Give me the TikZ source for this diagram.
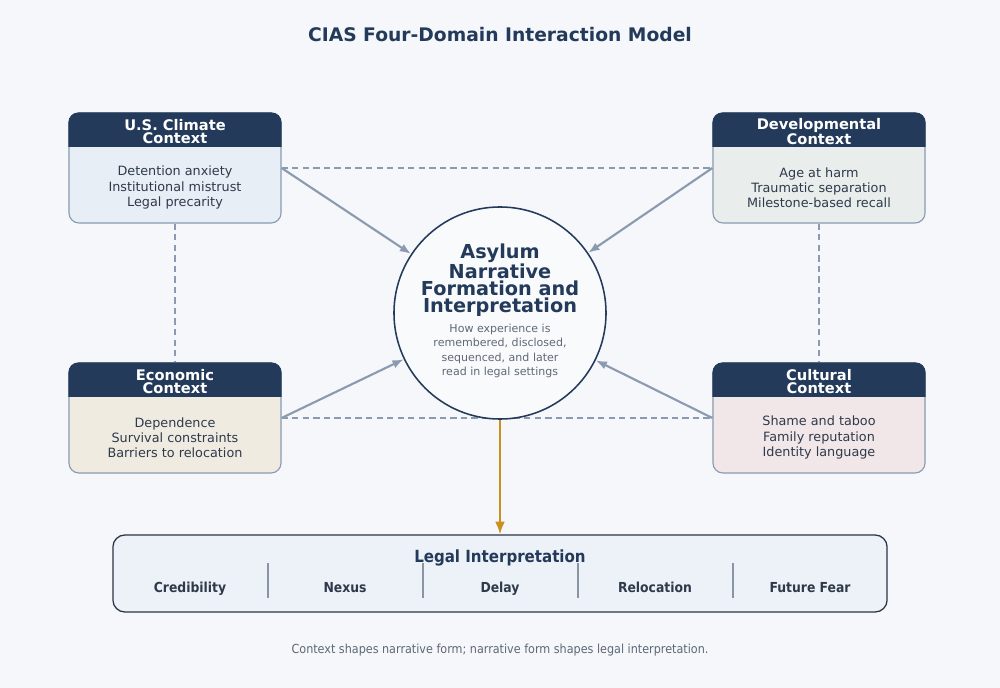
\documentclass[tikz,border=0pt]{standalone}
\usepackage{fontspec}
\setmainfont{DejaVu Sans}
\newfontfamily\condfont{DejaVu Sans Condensed}
\usetikzlibrary{arrows.meta,positioning,calc}
\definecolor{navycolor}{HTML}{233A5A}
\definecolor{edgecolor}{HTML}{8A9AB0}
\definecolor{usfill}{HTML}{E8EEF6}
\definecolor{devfill}{HTML}{E9EEEC}
\definecolor{ecofill}{HTML}{EFEBE1}
\definecolor{culfill}{HTML}{F2E7E8}
\definecolor{bgcolor}{HTML}{F5F7FA}
\definecolor{txtcolor}{HTML}{2E3A4B}
\definecolor{subcolor}{HTML}{5E6977}
\definecolor{goldcolor}{HTML}{C9921E}
\definecolor{legalfill}{HTML}{EDF1F8}
\definecolor{legalline}{HTML}{2B3445}
\definecolor{divcolor}{HTML}{8A94A3}

\begin{document}
\begin{tikzpicture}[
    x=0.025cm, y=-0.025cm,
    >={Latex[length=8pt,width=6pt]},
    ctxbox/.style={draw=edgecolor, line width=0.8pt, rounded corners=0.25cm,
       minimum width=5.3cm, minimum height=2.75cm, inner sep=0pt},
    hdrtext/.style={text=white, align=center, font=\fontsize{10.4}{9.2}\selectfont\bfseries},
    bodytext/.style={text=txtcolor, align=center, font=\fontsize{9.1}{10.9}\selectfont},
    core/.style={circle, draw=navycolor, line width=1.1pt, fill=bgcolor!60!white,
       minimum size=5.3cm, inner sep=0pt},
    link/.style={draw=edgecolor, line width=1.5pt, ->},
    tie/.style={draw=edgecolor, line width=1pt, dash pattern=on 4.5pt off 3pt},
    itemtext/.style={text=txtcolor, anchor=base, font=\condfont\fontsize{9.8}{11}\selectfont\bfseries}
  ]
    % Background and frame
    \fill[bgcolor] (0,0) rectangle (1000,688);
    \useasboundingbox (0,0) rectangle (1000,688);

    % Title
    \node[text=navycolor, font=\fontsize{13.3}{16}\selectfont\bfseries] (title) at (500,35)
      {CIAS Four-Domain Interaction Model};

    % Four context boxes with dark headers
    \foreach \nm/\cx/\cy/\fc/\hd/\bd in {
        usbox/175/168/usfill/{U.S. Climate\\Context}/{Detention anxiety\\Institutional mistrust\\Legal precarity},
        devbox/819/168/devfill/{Developmental\\Context}/{Age at harm\\Traumatic separation\\Milestone-based recall},
        ecobox/175/418/ecofill/{Economic\\Context}/{Dependence\\Survival constraints\\Barriers to relocation},
        culbox/819/418/culfill/{Cultural\\Context}/{Shame and taboo\\Family reputation\\Identity language}} {
      \node[ctxbox, fill=\fc] (\nm) at (\cx,\cy) {};
      \begin{scope}
        \clip[rounded corners=0.25cm] (\nm.north west) rectangle (\nm.south east);
        \fill[navycolor] (\nm.north west) rectangle ([yshift=-0.875cm]\nm.north east);
      \end{scope}
      \node[hdrtext] (\nm-hd) at ([yshift=-0.47cm]\nm.north) {\hd};
      \node[bodytext] (\nm-bd) at ([yshift=-0.49cm]\nm.center) {\bd};
    }

    % Dashed ties between neighbouring domains
    \draw[tie] (usbox.east) -- (devbox.west);
    \draw[tie] (ecobox.east) -- (culbox.west);
    \draw[tie] (usbox.south) -- (ecobox.north);
    \draw[tie] (devbox.south) -- (culbox.north);

    % Central circle
    \node[core] (narr) at (500,313) {};
    \node[text=navycolor, align=center, font=\fontsize{13.7}{12}\selectfont\bfseries]
      (narr-hd) at (500,280) {Asylum\\Narrative\\Formation and\\Interpretation};
    \node[text=subcolor, align=center, font=\fontsize{7.85}{10.3}\selectfont]
      (narr-bd) at (500,351) {How experience is\\remembered, disclosed,\\sequenced, and later\\read in legal settings};

    % Arrows into the narrative
    \draw[link] (usbox.east) -- (narr);
    \draw[link] (devbox.west) -- (narr);
    \draw[link] (ecobox.east) -- (narr);
    \draw[link] (culbox.west) -- (narr);

    % Legal interpretation bar
    \node[draw=legalline, line width=0.9pt, fill=legalfill, rounded corners=0.3cm,
      minimum width=19.35cm, minimum height=1.925cm, inner sep=0pt] (legal) at (500,573.5) {};
    \draw[goldcolor, line width=1.5pt, -{Latex[length=9pt,width=7pt]}] (narr.south) -- (legal.north);
    \node[text=navycolor, font=\condfont\fontsize{11.9}{14}\selectfont\bfseries] (legal-hd) at (500,558)
      {Legal Interpretation};
    \foreach \lbl [count=\i from 0] in {Credibility,Nexus,Delay,Relocation,Future Fear} {
      \node[itemtext] (item\i) at (190+155*\i,592) {\lbl};
    }
    \foreach \i in {1,...,4} {
      \draw[divcolor, line width=0.8pt] (113+155*\i,563) -- (113+155*\i,598);
    }

    % Caption
    \node[text=subcolor, font=\condfont\fontsize{8.85}{10}\selectfont] (caption) at (500,650)
      {Context shapes narrative form; narrative form shapes legal interpretation.};
  \end{tikzpicture}
\end{document}
